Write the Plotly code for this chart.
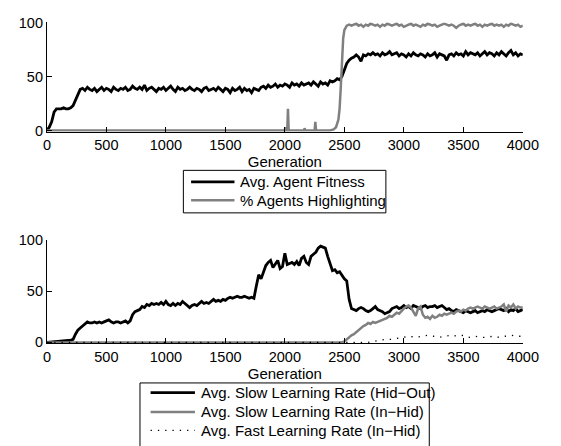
import plotly.graph_objects as go

# ---------------- data ----------------
generations = list(range(0, 4001, 20))

avg_fitness = [
    0, 3, 8, 17, 20, 20, 20, 21, 20, 20,
    21, 23, 28, 34, 38, 39, 37, 40, 38, 37,
    39, 36, 38, 40, 37, 39, 38, 36, 40, 38,
    37, 39, 38, 40, 37, 38, 41, 39, 38, 40,
    38, 42, 37, 39, 40, 38, 36, 39, 38, 40,
    37, 39, 41, 38, 36, 40, 38, 39, 37, 38,
    40, 38, 37, 39, 38, 36, 39, 40, 37, 38,
    39, 37, 40, 38, 36, 39, 38, 35, 39, 37,
    38, 40, 36, 39, 37, 38, 35, 39, 38, 37,
    40, 41, 39, 42, 40, 41, 43, 40, 42, 41,
    43, 42, 40, 44, 42, 43, 41, 44, 42, 43,
    44, 42, 45, 43, 41, 45, 43, 44, 42, 46,
    45, 46, 48, 47, 50, 56, 62, 65, 67, 68,
    70, 68, 64, 70, 69, 71, 70, 72, 70, 71,
    69, 72, 70, 71, 73, 70, 71, 72, 69, 71,
    70, 68, 71, 69, 72, 70, 69, 71, 70, 68,
    71, 69, 70, 72, 68, 71, 70, 69, 65, 70,
    71, 69, 72, 70, 71, 69, 73, 70, 72, 71,
    70, 72, 69, 71, 73, 70, 72, 71, 69, 72,
    70, 73, 71, 69, 72, 74, 70, 72, 69, 71,
    70,
]

highlight_gen = [0, 2000, 2004, 2008, 2020, 2026, 2032, 2100, 2160, 2166, 2172,
                 2250, 2256, 2262, 2380, 2410, 2430, 2450, 2460, 2470, 2480,
                 2490, 2500, 2510, 2520] + list(range(2540, 4001, 20))
pct_highlighting = [0, 0, 3, 0, 0, 20, 0, 0, 0, 2, 0,
                    0, 8, 0, 0, 1, 3, 10, 20, 40, 65,
                    85, 93, 96, 97] + [
    98, 97, 98, 99, 97, 98, 96, 98, 97, 99,
    98, 97, 98, 96, 98, 97, 99, 98, 97, 98,
    99, 97, 98, 96, 97, 98, 99, 97, 98, 97,
    96, 98, 97, 99, 98, 97, 98, 96, 97, 98,
    99, 98, 97, 98, 97, 95, 97, 98, 99, 97,
    98, 97, 98, 99, 97, 98, 96, 98, 97, 98,
    99, 97, 98, 97, 98, 96, 98, 97, 99, 98,
    97, 98, 96, 97,
]

slow_hid_out = [
    0, 0.3, 0.5, 0.8, 1, 1.2, 1.4, 1.6, 1.8, 2,
    2, 3, 8, 12, 14, 16, 18, 20, 19, 19,
    20, 19, 20, 19, 20, 21, 22, 20, 19, 20,
    20, 19, 20, 21, 19, 21, 27, 30, 31, 32,
    35, 34, 37, 36, 38, 37, 38, 37, 39, 37,
    40, 37, 36, 38, 36, 38, 37, 40, 38, 36,
    34, 36, 37, 36, 38, 40, 38, 39, 38, 40,
    42, 40, 41, 40, 42, 41, 43, 44, 43, 44,
    45, 44, 44, 45, 44, 43, 44, 43, 55, 66,
    62, 68, 75, 78, 80, 73, 76, 80, 72, 74,
    87, 76, 77, 78, 76, 79, 75, 82, 84, 78,
    76, 84, 86, 88, 92, 94, 93, 92, 84, 78,
    70, 71, 68, 69, 65, 62, 60, 42, 33, 32,
    31, 33, 34, 33, 31, 30, 31, 33, 35, 32,
    31, 30, 28, 29, 30, 33, 34, 35, 33, 34,
    36, 34, 35, 33, 36, 35, 34, 33, 35, 36,
    34, 35, 35, 36, 34, 35, 36, 34, 32, 33,
    31, 30, 32, 31, 30, 29, 31, 30, 29, 30,
    31, 29, 30, 31, 30, 32, 31, 30, 31, 32,
    33, 32, 31, 33, 30, 32, 31, 33, 30, 31,
    32,
]

in_hid_gen = [0, 2480] + list(range(2500, 4001, 20))
slow_in_hid = [0, 0] + [
    1, 3, 5, 7, 8, 10, 12, 14, 16, 17,
    19, 18, 20, 19, 20, 21, 22, 23, 24, 26,
    25, 27, 29, 28, 31, 33, 35, 36, 34, 30,
    26, 33, 35, 27, 24, 25, 23, 26, 24, 25,
    27, 26, 28, 27, 28, 29, 28, 30, 31, 30,
    32, 31, 33, 34, 33, 34, 35, 34, 33, 35,
    34, 33, 34, 35, 33, 34, 35, 37, 30, 36,
    34, 37, 33, 35, 34, 34,
]

fast_gen = [0, 2700] + list(range(2750, 4001, 50))
fast_in_hid = [0, 0] + [
    1, 2, 3, 3, 4, 5, 6, 5, 6, 7,
    6, 5, 6, 7, 6, 7, 5, 6, 5, 5,
    6, 5, 6, 7, 6, 6,
]

x_ticks = [0, 500, 1000, 1500, 2000, 2500, 3000, 3500, 4000]
y_ticks = [0, 50, 100]

# ---------------- styling ----------------
FONT = "Liberation Sans, Arial, Helvetica, sans-serif"
GRAY = "#808080"
W, H = 561, 446

style_black = dict(color="black", width=2.8)
style_gray = dict(color=GRAY, width=2.5)
style_dot = dict(color="black", width=1.3, dash="1.3px,6px")

fig = go.Figure()
series_top = [
    (generations, avg_fitness, "Avg. Agent Fitness", style_black),
    (highlight_gen, pct_highlighting, "% Agents Highlighting", style_gray),
]
series_bottom = [
    (generations, slow_hid_out, "Avg. Slow Learning Rate (Hid\u2212Out)", style_black),
    (in_hid_gen, slow_in_hid, "Avg. Slow Learning Rate (In\u2212Hid)", style_gray),
    (fast_gen, fast_in_hid, "Avg. Fast Learning Rate (In\u2212Hid)", style_dot),
]
for xs, ys, name, st in series_top:
    fig.add_trace(go.Scatter(x=xs, y=ys, mode="lines", name=name, line=st,
                             xaxis="x", yaxis="y", showlegend=False))
for xs, ys, name, st in series_bottom:
    fig.add_trace(go.Scatter(x=xs, y=ys, mode="lines", name=name, line=st,
                             xaxis="x2", yaxis="y2", showlegend=False))

xdom = [44.5 / W, 538 / W]

axis_common = dict(showline=True, linecolor="black", linewidth=1,
                   ticks="inside", ticklen=5, tickcolor="black", tickwidth=1,
                   showgrid=False, zeroline=False, mirror=False,
                   tickfont=dict(family=FONT, size=14.5, color="black"))
xcommon = dict(axis_common, range=[0, 4000], tickvals=x_ticks,
               ticktext=[str(v) for v in x_ticks], domain=xdom,
               title=dict(text="Generation", standoff=0,
                          font=dict(family=FONT, size=15, color="black")))
ycommon = dict(axis_common, range=[-1, 100], tickvals=y_ticks,
               ticktext=[str(v) for v in y_ticks])

# ---------------- legend boxes (drawn in paper space) ----------------
def px(x):
    return x / W


def py(y):
    return 1 - y / H


shapes, annotations = [], []
legend_boxes = [
    # box (left, top, right, bottom), entry rows, sample line x-range, text x
    (series_top, (186, 168, 396, 212), [180, 199], (194, 239), 243),
    (series_bottom, (141, 388, 441, 458), [398, 418, 437], (152, 198), 202),
]
for series, (bl, bt, br, bb), rows, (lx0, lx1), tx in legend_boxes:
    shapes.append(dict(type="rect", xref="paper", yref="paper",
                       x0=px(bl), x1=px(br), y0=py(bb), y1=py(bt),
                       line=dict(color="black", width=1), fillcolor="white",
                       layer="above"))
    for (xs, ys, name, st), ry in zip(series, rows):
        shapes.append(dict(type="line", xref="paper", yref="paper",
                           x0=px(lx0), x1=px(lx1), y0=py(ry), y1=py(ry),
                           line=st, layer="above"))
        annotations.append(dict(text=name, xref="paper", yref="paper",
                                x=px(tx), y=py(ry), xanchor="left",
                                yanchor="middle", showarrow=False,
                                font=dict(family=FONT, size=15, color="black")))

fig.update_layout(
    width=W, height=H, autosize=False,
    margin=dict(l=0, r=0, t=0, b=0),
    paper_bgcolor="white", plot_bgcolor="white",
    font=dict(family=FONT, size=14, color="black"),
    xaxis=dict(xcommon, anchor="y"),
    yaxis=dict(ycommon, anchor="x", domain=[1 - 127.8 / H, 1 - 15 / H]),
    xaxis2=dict(xcommon, anchor="y2"),
    yaxis2=dict(ycommon, anchor="x2", domain=[1 - 347.1 / H, 1 - 240 / H]),
    shapes=shapes,
    annotations=annotations,
    showlegend=False,
)

fig.write_html("out.html")
